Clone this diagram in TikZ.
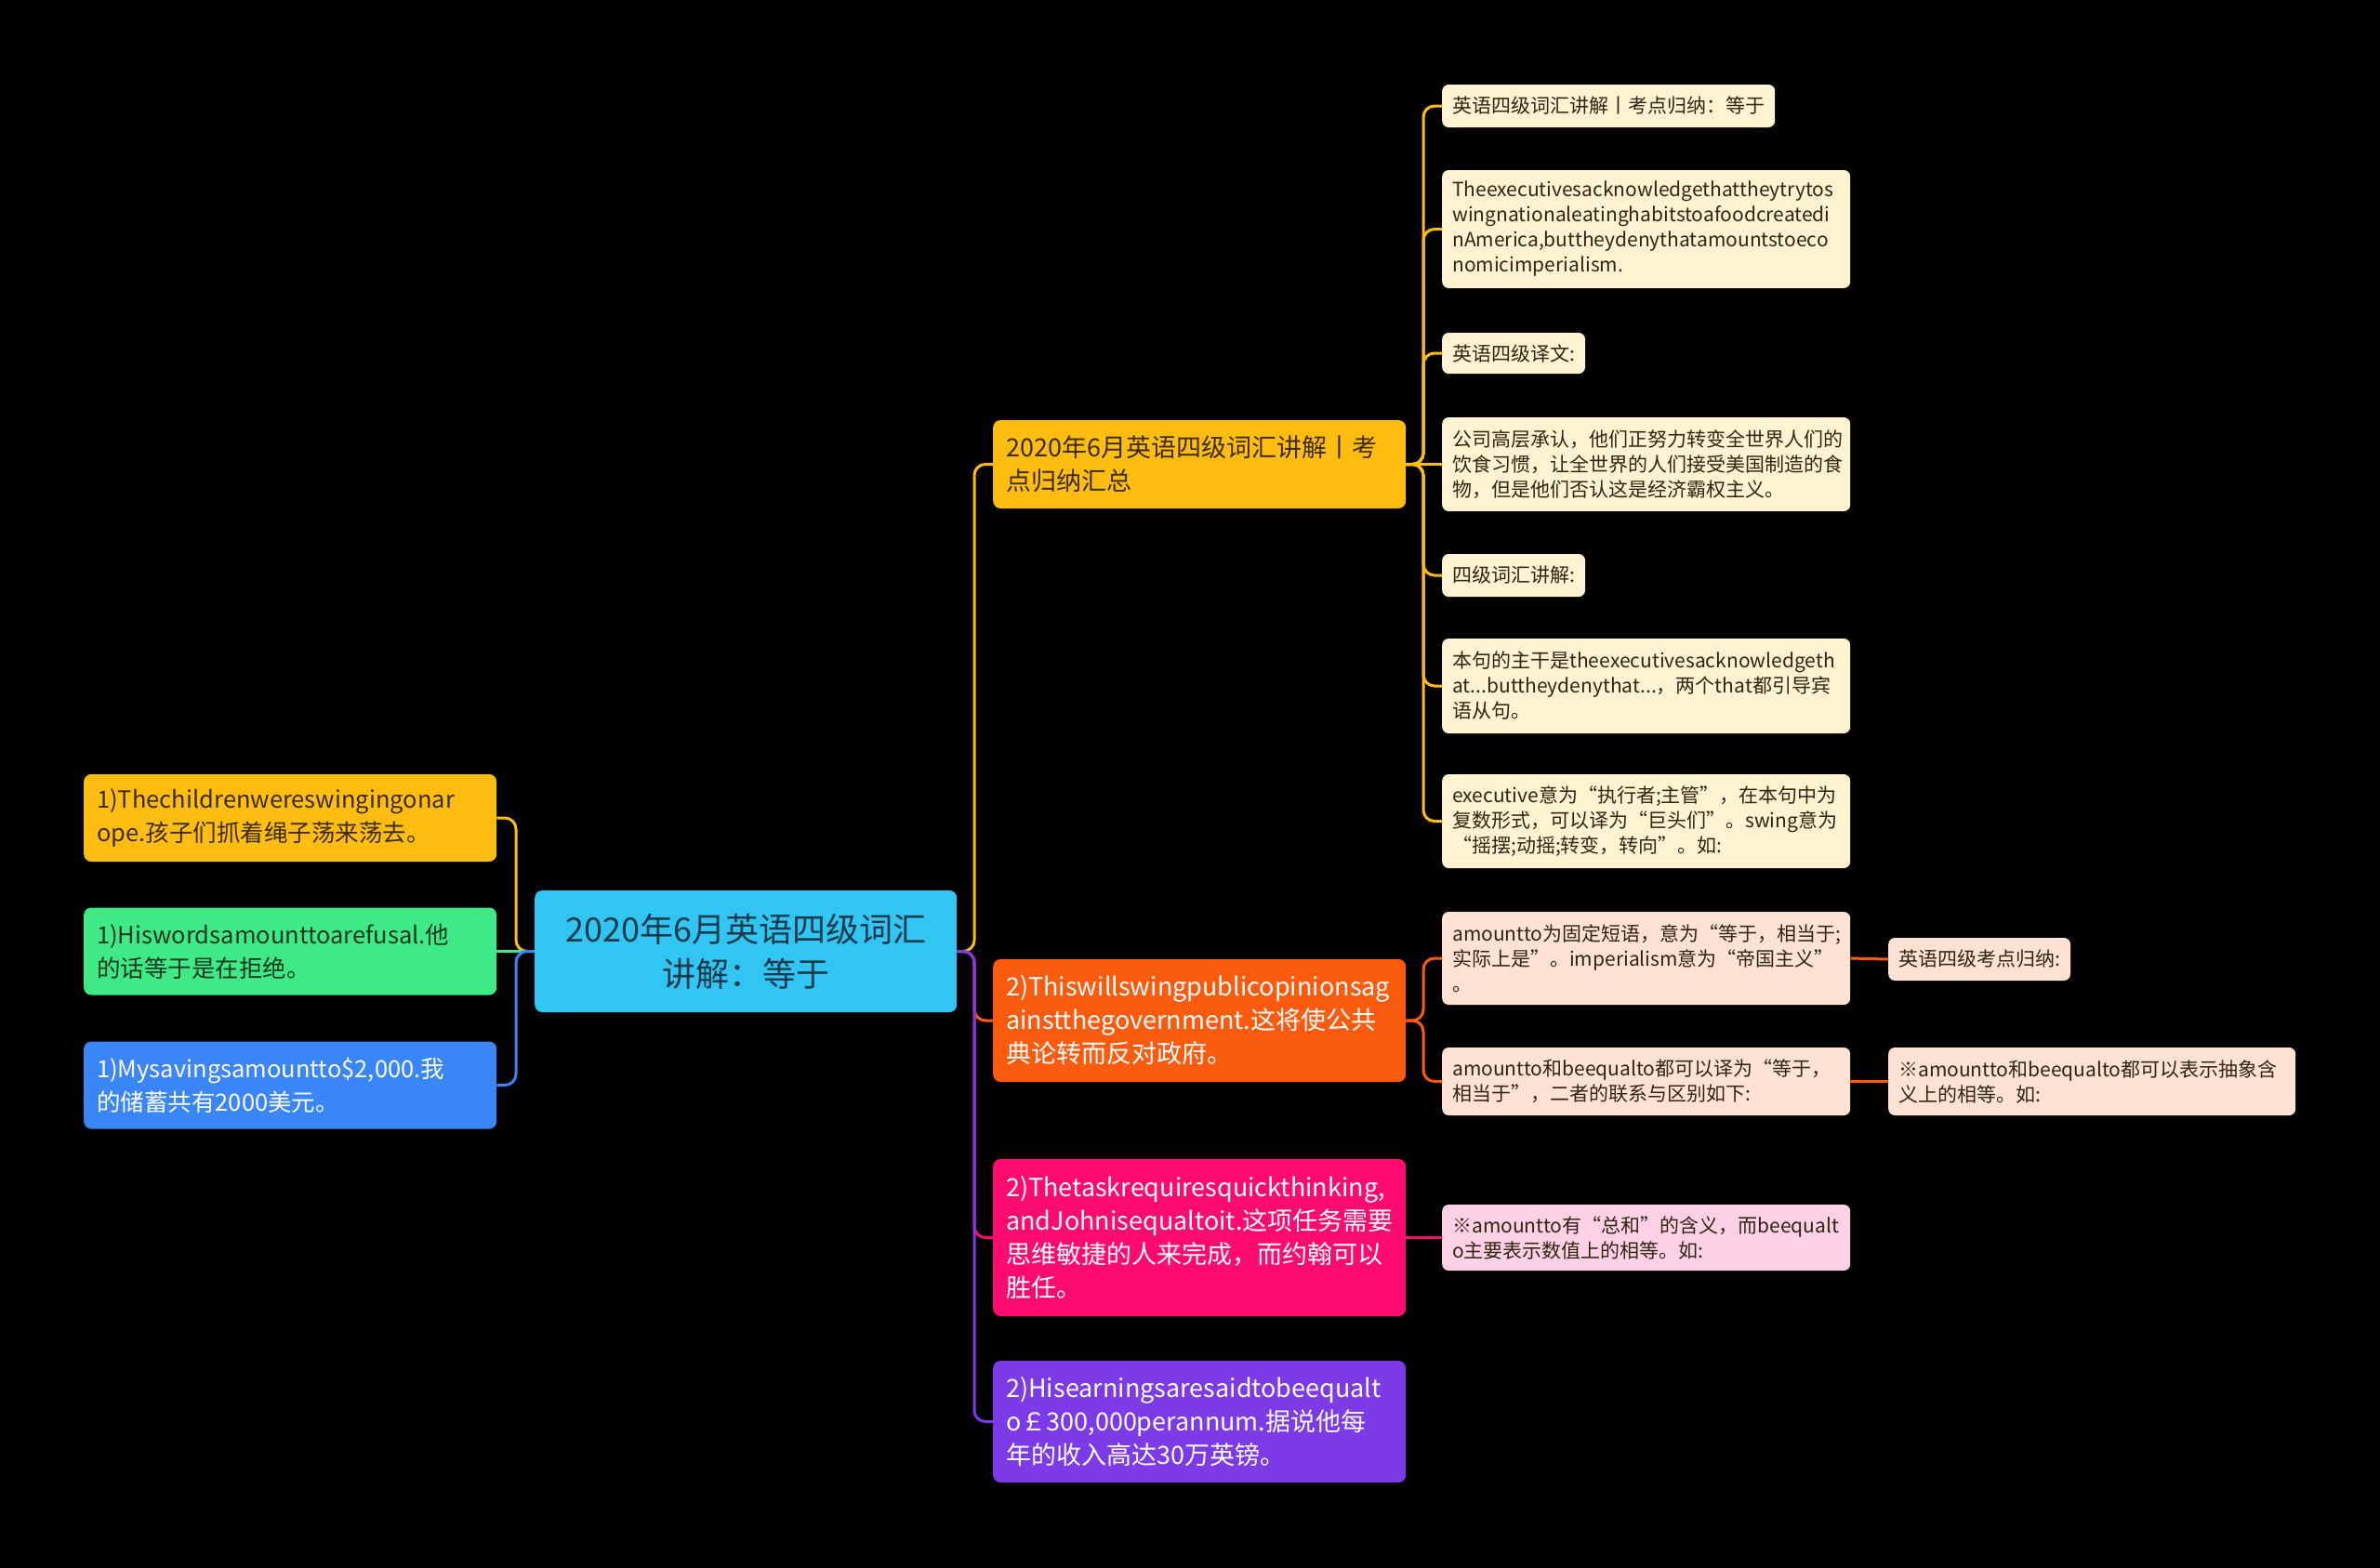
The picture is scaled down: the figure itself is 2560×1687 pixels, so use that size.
\documentclass[tikz,border=0pt]{standalone}
\usepackage{fontspec}
\setmainfont{Noto Sans CJK SC}
\usepackage{tikz}
\usetikzlibrary{positioning}
\usepackage{xcolor}
\definecolor{rootblue}{HTML}{30C5F3}
\definecolor{roottext}{HTML}{1B3A4B}
\definecolor{amber}{HTML}{FFBD11}
\definecolor{ambertext}{HTML}{3D2B00}
\definecolor{mint}{HTML}{3FEA86}
\definecolor{minttext}{HTML}{13381F}
\definecolor{skyblue}{HTML}{3B86F7}
\definecolor{tangerine}{HTML}{FA5B0F}
\definecolor{rose}{HTML}{FD0B6E}
\definecolor{violet}{HTML}{7D3AE7}
\definecolor{cream}{HTML}{FFF3D2}
\definecolor{peach}{HTML}{FFE2D3}
\definecolor{blush}{HTML}{FFD1E6}
\definecolor{leaftext}{HTML}{2E2612}

\begin{document}
\begin{tikzpicture}
    [
        x=1pt, y=-1pt,
        box/.style={rounded corners=8pt, align=left, anchor=west, inner xsep=14pt, inner ysep=0pt, text width=416pt, font=\fontsize{27}{36}\selectfont},
        sidebox/.style={box, font=\fontsize{25.5}{36}\selectfont, minimum height=94pt},
        leaf/.style={rounded corners=7pt, align=left, anchor=west, inner xsep=11pt, inner ysep=0pt, text=leaftext, font=\fontsize{21}{27}\selectfont},
        wideleaf/.style={leaf, text width=417pt},
        link/.style={line width=3pt, rounded corners=12pt},
    ]

\fill[black] (0,0) rectangle (2560,1687);
\useasboundingbox (0,0) rectangle (2560,1687);

% centre
\node[box, fill=rootblue, text=roottext, align=center, text width=426pt, minimum height=131pt, font=\fontsize{36}{48}\selectfont] (root) at (575,1023.5) {2020年6月英语四级词汇\\讲解：等于};

% left side
\node[sidebox, fill=amber, text=ambertext] (l1) at (90,880) {1)Thechildrenwereswingingonar\\ope.孩子们抓着绳子荡来荡去。};
\node[sidebox, fill=mint, text=minttext] (l2) at (90,1023.5) {1)Hiswordsamounttoarefusal.他\\的话等于是在拒绝。};
\node[sidebox, fill=skyblue, text=white] (l3) at (90,1167.5) {1)Mysavingsamountto\$2,000.我\\的储蓄共有2000美元。};

% right side
\node[box, fill=amber, text=ambertext, minimum height=95pt] (r1) at (1068,499.5) {2020年6月英语四级词汇讲解丨考\\点归纳汇总};
\node[box, fill=tangerine, text=white, minimum height=132pt] (r2) at (1068,1098) {2)Thiswillswingpublicopinionsag\\ainstthegovernment.这将使公共\\典论转而反对政府。};
\node[box, fill=rose, text=white, minimum height=169pt] (r3) at (1068,1331.5) {2)Thetaskrequiresquickthinking,\\andJohnisequaltoit.这项任务需要\\思维敏捷的人来完成，而约翰可以\\胜任。};
\node[box, fill=violet, text=white, minimum height=131pt] (r4) at (1068,1529.5) {2)Hisearningsaresaidtobeequalt\\o￡300,000perannum.据说他每\\年的收入高达30万英镑。};

% leaves
\node[leaf, fill=cream, minimum height=46pt] (a1) at (1551,114) {英语四级词汇讲解丨考点归纳：等于};
\node[wideleaf, fill=cream, minimum height=127pt] (a2) at (1551,246.5) {Theexecutivesacknowledgethattheytrytos\\wingnationaleatinghabitstoafoodcreatedi\\nAmerica,buttheydenythatamountstoeco\\nomicimperialism.};
\node[leaf, fill=cream, minimum height=44pt] (a3) at (1551,380) {英语四级译文:};
\node[wideleaf, fill=cream, minimum height=101pt] (a4) at (1551,499.5) {公司高层承认，他们正努力转变全世界人们的\\饮食习惯，让全世界的人们接受美国制造的食\\物，但是他们否认这是经济霸权主义。};
\node[leaf, fill=cream, minimum height=46pt] (a5) at (1551,619) {四级词汇讲解:};
\node[wideleaf, fill=cream, minimum height=102pt] (a6) at (1551,738) {本句的主干是theexecutivesacknowledgeth\\at...buttheydenythat...，两个that都引导宾\\语从句。};
\node[wideleaf, fill=cream, minimum height=101pt] (a7) at (1551,883.5) {executive意为“执行者;主管”，在本句中为\\复数形式，可以译为“巨头们”。swing意为\\“摇摆;动摇;转变，转向”。如:};

\node[wideleaf, fill=peach, minimum height=100pt] (b1) at (1551,1031) {amountto为固定短语，意为“等于，相当于;\\实际上是”。imperialism意为“帝国主义”\\。};
\node[wideleaf, fill=peach, minimum height=73pt] (b2) at (1551,1163.5) {amountto和beequalto都可以译为“等于，\\相当于”，二者的联系与区别如下:};
\node[leaf, fill=peach, minimum height=46pt] (b1a) at (2031,1032) {英语四级考点归纳:};
\node[leaf, fill=peach, text width=416pt, minimum height=73pt] (b2a) at (2031,1163.5) {※amountto和beequalto都可以表示抽象含\\义上的相等。如:};

\node[wideleaf, fill=blush, minimum height=71pt] (c1) at (1551,1331.5) {※amountto有“总和”的含义，而beequalt\\o主要表示数值上的相等。如:};

% connectors
\coordinate (lt) at (555,1023.5);
\coordinate (rt) at (1048,1023.5);
\coordinate (jr1) at (1531,499.5);
\coordinate (jr2) at (1531,1098);

\draw[link, amber] (root.west) -- (lt) |- (l1.east);
\draw[link, mint] (root.west) -- (l2.east);
\draw[link, skyblue] (root.west) -- (lt) |- (l3.east);

\draw[link, amber] (root.east) -- (rt) |- (r1.west);
\draw[link, tangerine] (root.east) -- (rt) |- (r2.west);
\draw[link, rose] (root.east) -- (rt) |- (r3.west);
\draw[link, violet] (root.east) -- (rt) |- (r4.west);

\foreach \n in {a1,a2,a3,a5,a6,a7}
    \draw[link, amber] (r1.east) -- (jr1) |- (\n.west);
\draw[link, amber] (r1.east) -- (a4.west);

\foreach \n in {b1,b2}
    \draw[link, tangerine] (r2.east) -- (jr2) |- (\n.west);
\draw[link, tangerine] (b1.east) -- (b1a.west);
\draw[link, tangerine] (b2.east) -- (b2a.west);

\draw[link, rose] (r3.east) -- (c1.west);
\end{tikzpicture}
\end{document}
